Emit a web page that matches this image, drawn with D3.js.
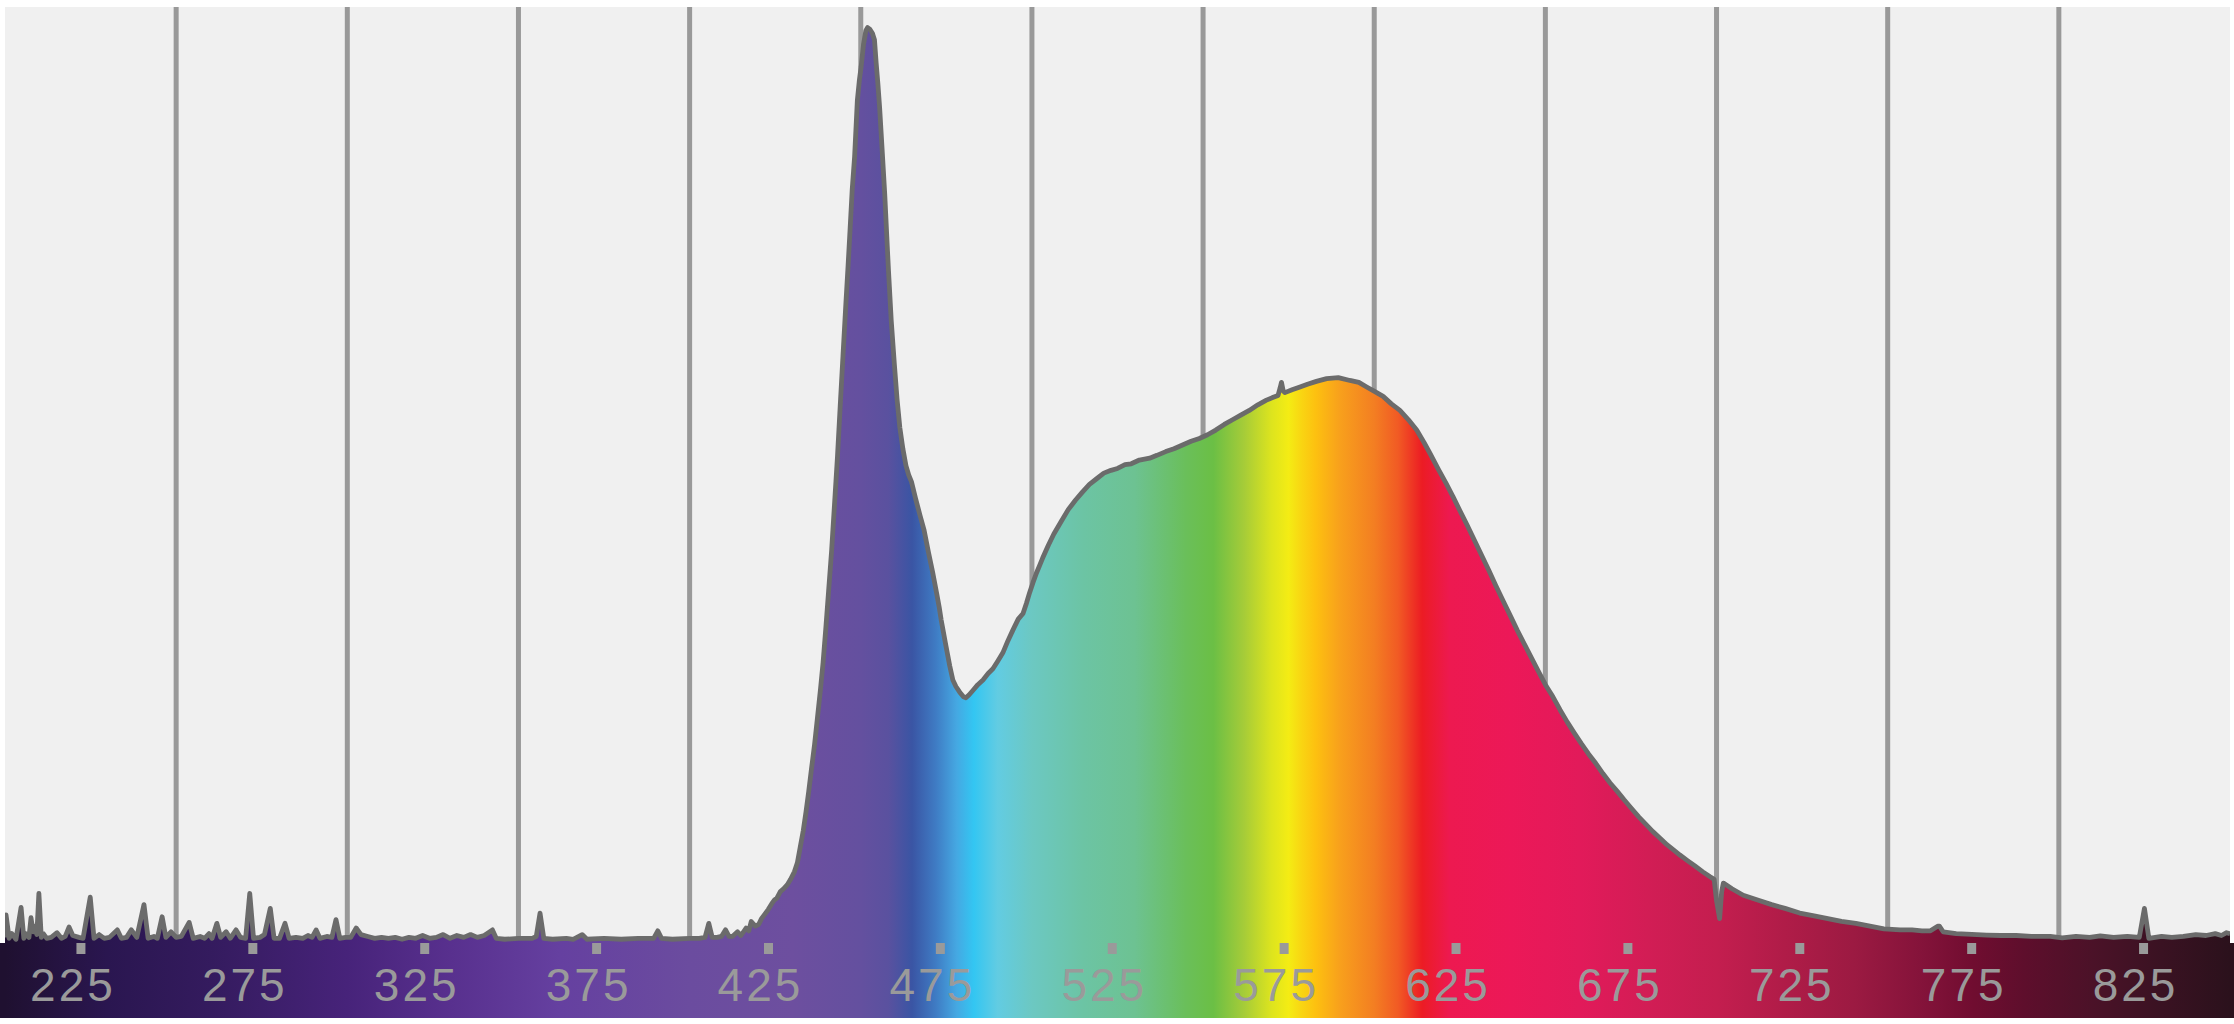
<!DOCTYPE html>
<html>
<head>
<meta charset="utf-8">
<script src="https://cdn.jsdelivr.net/npm/d3@7"></script>
<style>
  html, body { margin: 0; padding: 0; background: #ffffff; }
  svg { display: block; }
</style>
</head>
<body>
<svg id="chart" width="2234" height="1024"></svg>
<script>
// ---- data (wavelength in nm, relative intensity 0-100) ----
const wavelengths = [
  200.0,200.3,201.2,202.0,203.2,204.7,205.5,206.1,207.0,207.6,208.2,208.5,209.3,209.9,210.6,211.2,212.2,213.5,215.2,216.5,
  217.6,218.7,219.8,221.6,222.8,224.9,226.0,227.5,229.0,230.5,232.8,234.0,235.5,236.9,238.5,240.6,241.8,243.5,244.5,245.9,
  247.0,248.5,250.0,251.5,253.8,255.0,257.0,258.3,259.6,260.5,261.9,263.0,264.6,265.8,267.5,268.8,270.3,271.5,272.6,274.5,
  275.8,277.5,278.6,280.2,281.8,283.0,285.0,287.0,288.5,289.7,290.9,292.0,294.0,295.5,296.7,297.8,299.5,301.0,302.6,304.0,
  306.0,308.0,310.0,312.0,314.0,316.0,318.0,320.0,322.0,324.0,326.0,328.0,330.0,332.0,334.0,336.0,338.0,340.0,342.4,343.5,
  346.0,350.0,354.0,355.2,356.3,357.4,360.0,364.0,366.0,368.6,370.0,375.0,380.0,385.0,389.5,390.7,391.8,395.0,400.0,402.8,
  404.5,405.6,406.6,408.0,409.3,410.5,411.5,412.5,414.0,415.0,416.5,417.3,418.0,419.2,420.2,421.0,422.2,423.0,424.0,424.8,
  425.5,426.5,427.5,428.5,429.5,430.6,431.5,432.3,433.2,434.0,434.8,435.6,436.5,437.3,438.2,439.0,439.8,440.6,441.5,442.3,
  443.2,444.0,444.8,445.6,446.3,446.9,447.5,448.2,449.0,449.6,450.1,450.8,451.5,452.0,452.7,453.4,454.0,454.5,455.0,455.5,
  456.2,457.0,457.6,458.1,458.9,459.8,460.6,461.4,462.3,463.2,464.0,464.8,466.0,467.3,468.5,469.8,471.0,472.3,472.9,473.5,
  474.9,476.0,476.9,477.8,478.9,480.0,480.7,481.6,482.8,484.2,485.7,487.2,488.6,490.0,491.5,493.0,494.4,496.0,497.4,498.4,
  499.3,500.3,501.3,502.2,503.1,504.8,506.4,508.5,510.6,512.7,514.8,516.8,518.9,521.0,523.1,525.0,527.2,529.0,531.4,534.4,
  536.5,539.1,541.5,544.0,546.5,548.9,551.3,553.7,556.2,558.6,561.0,563.5,566.0,568.5,570.5,571.9,572.5,572.9,573.4,573.9,
  576.0,578.3,580.5,583.1,586.1,589.5,592.9,595.5,597.8,600.2,602.6,605.0,607.5,610.0,612.4,614.5,616.3,618.9,621.0,623.0,
  625.0,627.2,629.3,631.4,633.5,635.5,637.6,639.7,641.8,643.9,646.0,648.0,650.0,652.2,654.3,656.4,658.5,660.5,662.6,664.7,
  666.8,668.9,671.0,673.0,675.1,677.2,679.3,681.4,683.5,685.5,687.6,689.3,691.5,693.8,696.0,698.0,699.3,700.0,700.9,701.5,
  702.0,704.5,707.8,712.0,716.1,720.0,724.3,728.5,732.5,736.5,740.7,744.8,748.9,753.6,757.1,760.0,762.5,764.6,765.1,766.2,
  770.0,773.1,778.9,783.0,787.5,792.0,797.5,801.0,805.0,809.0,812.1,816.0,820.0,823.5,825.0,826.3,830.0,833.0,836.4,840.0,
  843.0,845.7,847.5,849.0,850.0
];
const intensity = [
  0.6,3.0,0.5,1.0,0.4,3.8,0.5,1.0,0.6,2.7,1.2,1.8,0.9,5.3,0.6,1.0,0.5,0.6,1.1,0.5,
  0.7,1.7,0.8,0.6,0.5,4.9,0.5,0.9,0.5,0.6,1.4,0.5,0.6,1.4,0.6,4.1,0.5,0.7,0.5,2.8,
  0.6,1.2,0.6,0.7,2.2,0.5,0.7,0.5,1.0,0.5,2.1,0.6,1.2,0.5,1.4,0.6,0.5,5.3,0.5,0.6,
  0.9,3.7,0.5,0.5,2.1,0.5,0.6,0.5,0.8,0.6,1.4,0.5,0.7,0.6,2.5,0.5,0.6,0.6,1.6,0.9,
  0.7,0.5,0.6,0.5,0.6,0.4,0.6,0.5,0.8,0.5,0.6,0.9,0.5,0.8,0.6,0.9,0.6,0.8,1.4,0.5,
  0.4,0.5,0.5,0.7,3.2,0.5,0.4,0.5,0.4,0.9,0.4,0.5,0.4,0.5,0.5,1.3,0.5,0.4,0.5,0.5,
  0.6,2.1,0.6,0.6,0.7,1.4,0.7,0.7,1.2,0.8,1.6,1.3,2.3,1.8,2.0,2.6,3.2,3.6,4.2,4.6,
  4.8,5.5,5.8,6.2,6.8,7.6,8.6,10.2,12.0,14.0,16.2,18.6,21.2,23.9,27.0,30.0,33.7,37.6,42.0,46.7,
  52.0,57.4,62.7,68.0,72.4,76.4,80.5,84.0,90.0,92.2,93.6,96.0,97.5,97.8,97.6,97.2,96.5,94.0,91.8,89.3,
  85.0,80.0,75.5,71.8,66.5,61.9,58.1,55.1,52.8,51.0,50.0,49.3,47.5,45.7,44.1,41.7,39.6,37.1,35.9,34.5,
  31.7,29.6,28.1,27.4,26.8,26.3,26.2,26.5,27.0,27.6,28.1,28.8,29.3,30.1,31.0,32.3,33.4,34.6,35.2,36.3,
  37.4,38.5,39.5,40.3,41.1,42.5,43.7,45.0,46.3,47.3,48.2,49.0,49.6,50.2,50.5,50.7,51.1,51.2,51.6,51.8,
  52.1,52.5,52.8,53.2,53.6,53.9,54.3,54.8,55.4,55.9,56.4,56.9,57.5,58.0,58.3,58.5,59.3,59.9,59.0,58.8,
  59.1,59.4,59.7,60.0,60.3,60.4,60.1,59.9,59.4,58.9,58.4,57.6,56.9,55.9,54.8,53.5,52.3,50.5,49.1,47.7,
  46.2,44.6,43.0,41.4,39.8,38.2,36.6,35.0,33.4,31.9,30.4,29.0,27.6,26.3,24.9,23.6,22.4,21.3,20.2,19.2,
  18.1,17.1,16.2,15.3,14.4,13.5,12.7,11.9,11.2,10.5,9.9,9.4,8.8,8.2,7.6,7.1,6.8,4.5,2.6,5.5,
  6.4,5.8,5.1,4.6,4.1,3.7,3.2,2.9,2.6,2.3,2.1,1.8,1.5,1.4,1.4,1.3,1.3,1.8,1.8,1.2,
  1.0,0.95,0.85,0.8,0.8,0.7,0.7,0.55,0.7,0.6,0.75,0.6,0.7,0.6,3.7,0.5,0.7,0.6,0.7,0.9,
  0.8,1.0,0.8,1.1,1.0
];
// colour bar tick labels (nm)
const tickValues = [225, 275, 325, 375, 425, 475, 525, 575, 625, 675, 725, 775, 825];
// vertical grid lines (nm)
const gridValues = [250, 300, 350, 400, 450, 500, 550, 600, 650, 700, 750, 800];
// spectrum colour stops (nm, colour)
const stopNm = [200, 230, 260, 300, 330, 362, 400, 430, 450, 458, 465, 472, 478, 483, 490, 500, 515, 530, 545, 553,
                562, 570, 575, 579, 583, 590, 600, 607, 614, 622, 640, 660, 680, 700, 720, 740, 760, 775, 790, 810, 830, 850];
const stopColor = ["#1f1030","#2a1650","#341b5e","#47237a","#58308e","#6540a0","#6b4c9f","#6d4f9f","#64509f","#5a519f",
                   "#3a55a4","#3f7cc4","#45a8e2","#33c6f2","#62cce2","#6cc8c2","#6cc4a4","#6dc292","#6abf5a","#6bbf45",
                   "#a6cc38","#dde41e","#f4ec14","#f9d412","#fdc010","#f8a01c","#f37e22","#f15a24","#ec1c24","#ed1950",
                   "#ec1858","#e21a5a","#d21d55","#c41e4f","#b01c48","#9c1a42","#84133a","#700d30","#5e0e2c","#4b1228",
                   "#3a1222","#2b111c"];

// ---- layout ----
const W = 2234, H = 1024;
const plot = { left: 5, right: 2230, top: 7, bottom: 943 };
const barBottom = 1018;

const svg = d3.select("#chart");
const x = d3.scaleLinear().domain([200, 850]).range([plot.left, plot.right]);
const y = d3.scaleLinear().domain([0, 100]).range([plot.bottom, plot.top]);
const xBar = d3.scaleLinear().domain([200, 850]).range([-5.5, 2229]);

const defs = svg.append("defs");
const grad = defs.append("linearGradient")
  .attr("id", "spec").attr("gradientUnits", "userSpaceOnUse")
  .attr("x1", 0).attr("x2", W).attr("y1", 0).attr("y2", 0);
stopNm.forEach((nm, i) => {
  grad.append("stop").attr("offset", x(nm) / W).attr("stop-color", stopColor[i]);
});
defs.append("clipPath").attr("id", "plotClip").append("rect")
  .attr("x", plot.left).attr("y", 0).attr("width", plot.right - plot.left).attr("height", plot.bottom);

// background
svg.append("rect").attr("x", plot.left).attr("y", plot.top)
  .attr("width", plot.right - plot.left).attr("height", plot.bottom - plot.top)
  .attr("fill", "#f0f0f0");

// grid lines
svg.append("g").selectAll("line").data(gridValues).join("line")
  .attr("x1", d => x(d)).attr("x2", d => x(d))
  .attr("y1", plot.top).attr("y2", plot.bottom)
  .attr("stroke", "#999999").attr("stroke-width", 5);

const data = wavelengths.map((w, i) => ({ w, v: intensity[i] }));

const g = svg.append("g").attr("clip-path", "url(#plotClip)");
g.append("path").datum(data)
  .attr("d", d3.area().x(d => x(d.w)).y0(plot.bottom).y1(d => y(d.v)))
  .attr("fill", "url(#spec)");
g.append("path").datum(data)
  .attr("d", d3.line().x(d => x(d.w)).y(d => y(d.v)))
  .attr("fill", "none").attr("stroke", "#6b6b6b").attr("stroke-width", 4.8)
  .attr("stroke-linejoin", "round");

// colour bar
svg.append("rect").attr("x", 0).attr("y", plot.bottom)
  .attr("width", W).attr("height", barBottom - plot.bottom)
  .attr("fill", "url(#spec)");

// axis on the colour bar
const axis = svg.append("g").attr("transform", `translate(0,${plot.bottom})`)
  .call(d3.axisBottom(xBar).tickValues(tickValues).tickSize(11).tickPadding(14).tickFormat(d3.format("d")));
axis.select(".domain").remove();
axis.selectAll(".tick line").attr("stroke", "#9a9a9a").attr("stroke-width", 9);
axis.selectAll(".tick text")
  .attr("fill", "#9a9a9a")
  .attr("font-family", "'Liberation Sans', Arial, sans-serif")
  .attr("font-size", 46)
  .attr("letter-spacing", 3)
  .attr("dx", -8);
</script>
</body>
</html>
